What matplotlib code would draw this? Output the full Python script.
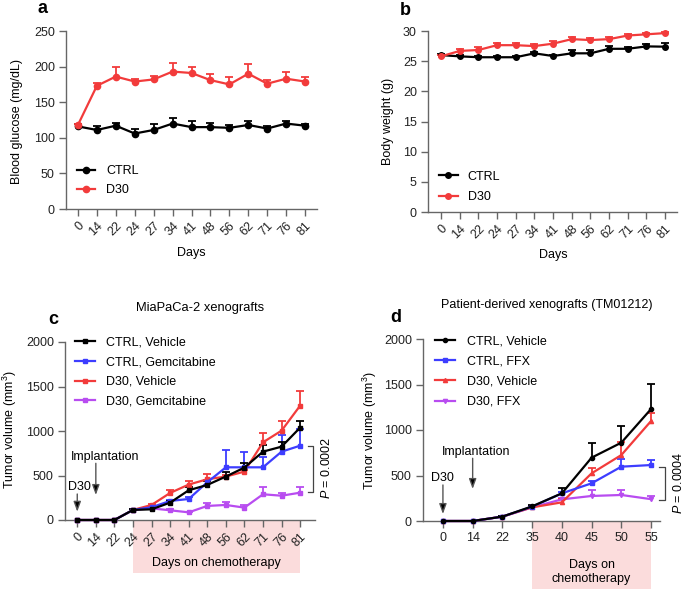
import matplotlib
matplotlib.use('Agg')
import matplotlib.pyplot as plt
import matplotlib.transforms as mtransforms
from matplotlib.patches import Rectangle
import numpy as np

plt.rcParams['font.family'] = ['Liberation Sans', 'DejaVu Sans']
plt.rcParams['mathtext.fontset'] = 'custom'
plt.rcParams['mathtext.rm'] = 'Liberation Sans'
plt.rcParams['mathtext.it'] = 'Liberation Sans:italic'

W, H = 685, 589
RED = '#f23b3b'
BLUE = '#3d3dff'
PURPLE = '#b84cf0'
BLACK = '#000000'
PINK = '#fbdcdc'
AXC = '#666666'

# --- panel a / b: blood glucose and body weight
days = ['0', '14', '22', '24', '27', '34', '41', '48', '56', '62', '71', '76', '81']
glu_ctrl = [116, 111, 117, 106, 111, 120, 115, 115, 114, 118, 113, 120, 117]
glu_ctrl_err = [3, 5, 4, 6, 9, 8, 8, 6, 4, 6, 4, 3, 2]
glu_d30 = [118, 173, 186, 179, 182, 193, 191, 181, 175, 190, 176, 183, 179]
glu_d30_err = [2, 4, 13, 4, 5, 12, 9, 8, 11, 14, 5, 9, 7]

bw_ctrl = [26.0, 25.8, 25.65, 25.65, 25.65, 26.3, 25.85, 26.3, 26.3, 27.05, 27.05, 27.45, 27.4]
bw_ctrl_err = [0.2, 0.2, 0.2, 0.2, 0.2, 0.3, 0.2, 0.5, 0.5, 0.5, 0.3, 0.4, 0.6]
bw_d30 = [25.8, 26.7, 26.85, 27.65, 27.65, 27.5, 27.9, 28.65, 28.5, 28.65, 29.25, 29.45, 29.65]
bw_d30_err = [0.2, 0.3, 0.45, 0.4, 0.4, 0.3, 0.5, 0.4, 0.3, 0.3, 0.3, 0.3, 0.25]

# --- panel c: MiaPaCa-2
c_ctrl_veh = [0, 0, 0, 113, 120, 195, 334, 394, 488, 589, 768, 824, 1038]
c_ctrl_veh_err = [0, 0, 0, 5, 10, 15, 40, 40, 55, 55, 75, 56, 75]
c_ctrl_gem = [0, 0, 0, 113, 143, 214, 236, 424, 592, 592, 592, 768, 835]
c_ctrl_gem_err = [0, 0, 0, 5, 10, 15, 25, 26, 195, 176, 113, 187, 184]
c_d30_veh = [0, 0, 0, 113, 169, 304, 398, 458, 488, 544, 873, 1004, 1285]
c_d30_veh_err = [0, 0, 0, 5, 10, 30, 45, 56, 20, 20, 101, 109, 168]
c_d30_gem = [0, 0, 0, 113, 131, 109, 86, 158, 169, 139, 289, 273, 307]
c_d30_gem_err = [0, 0, 0, 5, 8, 10, 8, 30, 38, 30, 78, 34, 60]

# --- panel d: PDX TM01212
d_days = ['0', '14', '22', '35', '40', '45', '50', '55']
d_ctrl_veh = [0, 0, 48, 161, 304, 696, 861, 1231]
d_ctrl_veh_err = [0, 0, 5, 10, 55, 165, 183, 271]
d_ctrl_ffx = [0, 0, 48, 157, 304, 414, 597, 615]
d_ctrl_ffx_err = [0, 0, 5, 10, 15, 30, 80, 55]
d_d30_veh = [0, 0, 48, 150, 205, 524, 725, 1099]
d_d30_veh_err = [0, 0, 5, 10, 37, 55, 147, 91]
d_d30_ffx = [0, 0, 48, 150, 238, 275, 286, 240]
d_d30_ffx_err = [0, 0, 5, 10, 15, 66, 55, 30]


def px_axes(left, top, right, bottom):
    return [left / W, 1 - bottom / H, (right - left) / W, (bottom - top) / H]


def ftxt(x, y, s, **kw):
    return fig.text(x / W, 1 - y / H, s, **kw)


def series(ax, y, err, color, marker, ms, label, z=3):
    x = np.arange(len(y))
    y = np.asarray(y, float)
    err = np.asarray(err, float)
    m = err > 0
    ax.vlines(x[m], y[m], y[m] + err[m], color=color, lw=1.3, zorder=z - 1)
    ax.plot(x[m], y[m] + err[m], ls='none', marker='_', ms=6, mew=1.3,
            color=color, zorder=z - 1)
    ax.plot(x, y, color=color, lw=1.6, marker=marker, ms=ms, zorder=z,
            label=label, clip_on=False)


def style(ax, labels, ylim, ystep, rot, xlim):
    for s in ['top', 'right']:
        ax.spines[s].set_visible(False)
    for s in ['left', 'bottom']:
        ax.spines[s].set_color(AXC)
        ax.spines[s].set_linewidth(1)
    ax.set_xlim(*xlim)
    ax.set_ylim(*ylim)
    ax.set_yticks(np.arange(ylim[0], ylim[1] + ystep / 2, ystep))
    ax.set_xticks(range(len(labels)))
    if rot:
        ax.set_xticklabels(labels, rotation=45, ha='right', rotation_mode='anchor')
    else:
        ax.set_xticklabels(labels)
    ax.tick_params(length=5, width=1, color=AXC, labelsize=9, labelcolor='#222222', pad=3)
    ax.patch.set_visible(False)


def legend(ax, x, y, hl, hp, ls):
    ax.legend(loc='upper left', bbox_to_anchor=(x / W, 1 - y / H),
              bbox_transform=fig.transFigure, frameon=False, borderpad=0,
              borderaxespad=0, handlelength=hl, handletextpad=hp,
              labelspacing=ls, fontsize=9)


fig = plt.figure(figsize=(6.85, 5.89), dpi=100)

# a
ax = fig.add_axes(px_axes(66, 31, 317, 209))
series(ax, glu_ctrl, glu_ctrl_err, BLACK, 'o', 4.5, 'CTRL')
series(ax, glu_d30, glu_d30_err, RED, 'o', 4.5, 'D30')
style(ax, days, (0, 250), 50, True, (-0.63, 12.63))
legend(ax, 77, 165.5, 1.45, 0.9, 0.52)
ftxt(17, 122, 'Blood glucose (mg/dL)', rotation=90, ha='center', va='center', fontsize=9)
ftxt(191, 253, 'Days', ha='center', va='center', fontsize=9)
ftxt(37, 13, 'a', fontsize=13, fontweight='bold', va='baseline')

# b
ax = fig.add_axes(px_axes(428, 31, 677, 212))
series(ax, bw_ctrl, bw_ctrl_err, BLACK, 'o', 4, 'CTRL')
series(ax, bw_d30, bw_d30_err, RED, 'o', 4, 'D30')
style(ax, days, (0, 30), 5, True, (-0.70, 12.64))
legend(ax, 439, 170.5, 1.5, 0.8, 0.68)
ftxt(388, 121, 'Body weight (g)', rotation=90, ha='center', va='center', fontsize=9)
ftxt(553, 255, 'Days', ha='center', va='center', fontsize=9)
ftxt(400, 15, 'b', fontsize=13, fontweight='bold', va='baseline')

# c
ax = fig.add_axes(px_axes(65, 342, 315, 520))
series(ax, c_ctrl_veh, c_ctrl_veh_err, BLACK, 's', 2.5, 'CTRL, Vehicle', z=3.6)
series(ax, c_ctrl_gem, c_ctrl_gem_err, BLUE, 's', 2.5, 'CTRL, Gemcitabine', z=3.4)
series(ax, c_d30_veh, c_d30_veh_err, RED, 's', 2.5, 'D30, Vehicle', z=3.2)
series(ax, c_d30_gem, c_d30_gem_err, PURPLE, 's', 2.5, 'D30, Gemcitabine', z=3.0)
style(ax, days, (0, 2000), 500, True, (-0.66, 12.8))
legend(ax, 75, 336.5, 1.6, 0.88, 0.62)
trans = mtransforms.blended_transform_factory(ax.transData, ax.transAxes)
ax.add_patch(Rectangle((3, -0.298), 9, 0.298, transform=trans, fc=PINK, ec='none',
                       clip_on=False, zorder=0))
ax.text(7.5, -0.24, 'Days on chemotherapy', transform=trans, ha='center', va='center', fontsize=9)
arw = dict(arrowstyle='-|>,head_length=0.6,head_width=0.22', mutation_scale=10,
           lw=1, fc='black', ec='#555555', shrinkA=0, shrinkB=0)
ax.annotate('', xy=(0, 93), xytext=(0, 292), arrowprops=arw, annotation_clip=False)
ax.annotate('', xy=(1, 281), xytext=(1, 637), arrowprops=arw, annotation_clip=False)
ax.text(0.1, 375, 'D30', ha='center', va='center', fontsize=9)
ax.text(1.49, 711, 'Implantation', ha='center', va='center', fontsize=9)
ax.plot([12.43, 12.70, 12.70, 12.43], [832, 832, 311, 311], color='#444444', lw=0.9,
        clip_on=False)
ax.text(13.44, 584, '$P$ = 0.0002', rotation=90, ha='center', va='center', fontsize=9)
ftxt(10, 429, 'Tumor volume (mm$^{3}$)', rotation=90, ha='center', va='center', fontsize=9)
ftxt(200, 308, 'MiaPaCa-2 xenografts', ha='center', va='center', fontsize=9.3)
ftxt(48, 324, 'c', fontsize=13, fontweight='bold', va='baseline')

# d
ax = fig.add_axes(px_axes(423, 339, 660, 521))
series(ax, d_ctrl_veh, d_ctrl_veh_err, BLACK, 'o', 3, 'CTRL, Vehicle', z=3.6)
series(ax, d_ctrl_ffx, d_ctrl_ffx_err, BLUE, 's', 3, 'CTRL, FFX', z=3.4)
series(ax, d_d30_veh, d_d30_veh_err, RED, '^', 3, 'D30, Vehicle', z=3.2)
series(ax, d_d30_ffx, d_d30_ffx_err, PURPLE, 'v', 3, 'D30, FFX', z=3.0)
style(ax, d_days, (0, 2000), 500, False, (-0.67, 7.3))
legend(ax, 435, 335.5, 1.6, 0.96, 0.65)
trans = mtransforms.blended_transform_factory(ax.transData, ax.transAxes)
ax.add_patch(Rectangle((3, -0.40), 4, 0.40, transform=trans, fc=PINK, ec='none',
                       clip_on=False, zorder=0))
ax.text(5, -0.28, 'Days on\nchemotherapy', transform=trans, ha='center', va='center',
        fontsize=9, linespacing=1.25)
ax.annotate('', xy=(0, 77), xytext=(0, 396), arrowprops=arw, annotation_clip=False)
ax.annotate('', xy=(1, 352), xytext=(1, 689), arrowprops=arw, annotation_clip=False)
ax.text(0, 476, 'D30', ha='center', va='center', fontsize=9)
ax.text(1.11, 762, 'Implantation', ha='center', va='center', fontsize=9)
ax.plot([7.27, 7.47, 7.47, 7.27], [597, 597, 231, 231], color='#444444', lw=0.9,
        clip_on=False)
ax.text(7.91, 418, '$P$ = 0.0004', rotation=90, ha='center', va='center', fontsize=9)
ftxt(370, 430, 'Tumor volume (mm$^{3}$)', rotation=90, ha='center', va='center', fontsize=9)
ftxt(547, 305, 'Patient-derived xenografts (TM01212)', ha='center', va='center', fontsize=9)
ftxt(390, 322, 'd', fontsize=13, fontweight='bold', va='baseline')

fig.savefig('out.png', dpi=100)
